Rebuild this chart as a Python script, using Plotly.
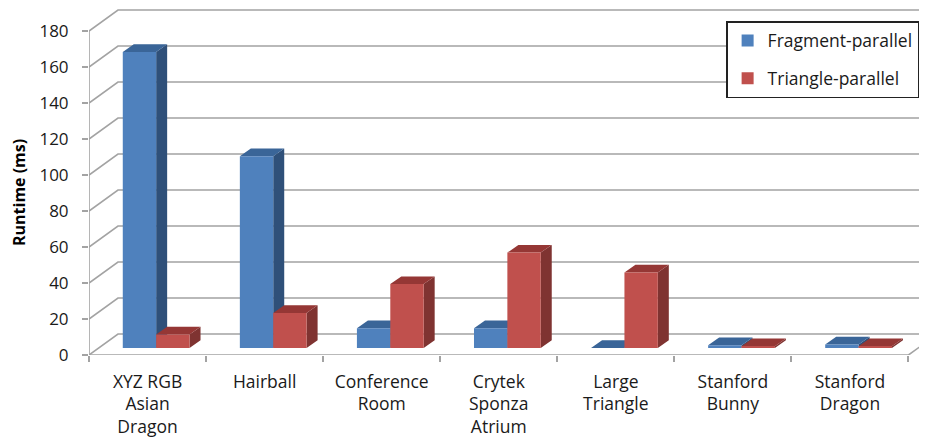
import plotly.graph_objects as go

categories = ["XYZ RGB<br>Asian<br>Dragon", "Hairball", "Conference<br>Room", "Crytek<br>Sponza<br>Atrium",
              "Large<br>Triangle", "Stanford<br>Bunny", "Stanford<br>Dragon"]
fragment_parallel = [164.5, 106.5, 11, 11, 0, 1.5, 2]
triangle_parallel = [7.5, 19.5, 35.5, 53, 42, 1, 1]
series_names = ["Fragment-parallel", "Triangle-parallel"]
y_ticks = list(range(0, 181, 20))

PX_X = 1 / 117.14
PX_Y = 1 / 1.8
FONT = "'Open Sans', Lato, sans-serif"
GRID = "#a3a3a3"
TXT = "#1a1a1a"

WALL_X, WALL_Y = 29 * PX_X, 21 * PX_Y
BASE_Y = 7 * PX_Y
BAR_W = 33.4 * PX_X
DEPTH_X, DEPTH_Y = 11 * PX_X, 7.7 * PX_Y
BAR_X = [(139 - 88.5) * PX_X, (172.4 - 88.5) * PX_X]
N = len(categories)
XMAX = (927 - 88.5) * PX_X
PLOT_H = 347  # page body margin of 8 px sits above the figure

STYLE = [
    dict(front="#4f81bd", top="#3a6598", side="#2f5079"),
    dict(front="#c0504d", top="#953735", side="#7f3331"),
]

fig = go.Figure()

gx, gy = [], []
for t in y_ticks:
    gx += [0, WALL_X, XMAX + 1, None]
    gy += [t, t + WALL_Y, t + WALL_Y, None]
gx += [0, 0, None, 0, N, N + WALL_X, None]
gy += [0, 180, None, 0, 0, WALL_Y, None]
fig.add_trace(go.Scatter(x=gx, y=gy, mode="lines", line=dict(color=GRID, width=1.6),
                         hoverinfo="skip", showlegend=False, cliponaxis=False, zorder=0))

for s, (vals, name, st) in enumerate(zip([fragment_parallel, triangle_parallel], series_names, STYLE)):
    xs = [i + BAR_X[s] for i in range(N)]
    tx, ty, sx, sy = [], [], [], []
    for x, v in zip(xs, vals):
        l, r = x - BAR_W / 2, x + BAR_W / 2
        top = BASE_Y + v
        tx += [l, r, r + DEPTH_X, l + DEPTH_X, l, None]
        ty += [top, top, top + DEPTH_Y, top + DEPTH_Y, top, None]
        sx += [r, r + DEPTH_X, r + DEPTH_X, r, r, None]
        sy += [BASE_Y, BASE_Y + DEPTH_Y, top + DEPTH_Y, top, BASE_Y, None]
    z = 1 + 2 * s
    fig.add_trace(go.Scatter(x=sx, y=sy, fill="toself", fillcolor=st["side"], mode="none",
                             hoverinfo="skip", showlegend=False, zorder=z))
    fig.add_trace(go.Scatter(x=tx, y=ty, fill="toself", fillcolor=st["top"], mode="none",
                             hoverinfo="skip", showlegend=False, zorder=z))
    fig.add_trace(go.Bar(x=xs, y=vals, base=BASE_Y, width=BAR_W, name=name,
                         marker=dict(color=st["front"], line=dict(width=0)),
                         legendgroup=name, zorder=z + 1))

fig.update_layout(
    width=919, height=432, autosize=False,
    margin=dict(l=80.5, r=0, t=0, b=85, pad=0),
    paper_bgcolor="white", plot_bgcolor="white",
    barmode="overlay",
    font=dict(family=FONT, size=17, color=TXT),
    xaxis=dict(range=[0, XMAX], showgrid=False, zeroline=False, showline=False,
               tickmode="array", tickvals=[i + 0.5 for i in range(N)], ticktext=categories,
               ticks="", tickangle=0, ticklabelstandoff=14,
               tickfont=dict(size=17.5, family=FONT, color=TXT),
               minor=dict(tickmode="array", tickvals=list(range(N + 1)), ticks="outside",
                          ticklen=6, tickwidth=1.5, tickcolor=GRID, showgrid=False)),
    yaxis=dict(range=[0, PLOT_H * PX_Y], showgrid=False, zeroline=False, showline=False,
               tickmode="array", tickvals=y_ticks, ticks="outside", ticklen=6, tickwidth=1.5,
               ticklabelstandoff=10,
               tickcolor=GRID, tickfont=dict(size=17, family=FONT, color=TXT)),
    legend=dict(x=(726 - 88.5) / 838.5, y=(PLOT_H - 13) / PLOT_H, xanchor="left", yanchor="top",
                bgcolor="white", bordercolor="#222222", borderwidth=1.5,
                font=dict(size=17.5, family=FONT, color=TXT), tracegroupgap=12,
                traceorder="grouped"),
    annotations=[dict(text="<b>Runtime (ms)</b>", textangle=-90, showarrow=False,
                      xref="paper", yref="paper", x=(18 - 88.5) / 838.5, y=(355 - 192.5) / PLOT_H,
                      xanchor="center", yanchor="middle",
                      font=dict(size=16, family=FONT, color="#000000"))],
)
fig.write_html("out.html")
